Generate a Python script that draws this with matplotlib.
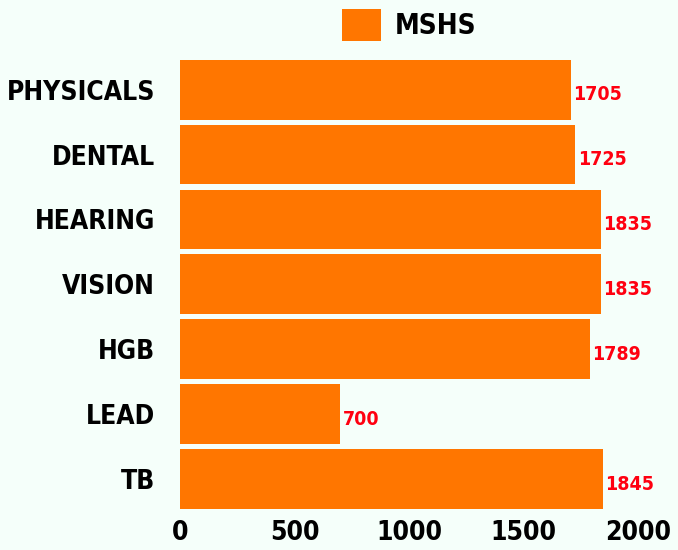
import matplotlib
matplotlib.use('Agg')
import matplotlib.pyplot as plt

# data
categories = ['PHYSICALS', 'DENTAL', 'HEARING', 'VISION', 'HGB', 'LEAD', 'TB']
values = [1705, 1725, 1835, 1835, 1789, 700, 1845]
xticks = [0, 500, 1000, 1500, 2000]
series_name = 'MSHS'

bg = '#F5FFFA'
bar_color = '#FF7600'
font = ['DejaVu Sans']

fig = plt.figure(figsize=(6.78, 5.5), dpi=100, facecolor=bg)
ax = fig.add_axes([0.2655, 0.07, 0.676, 0.826], facecolor=bg)

pos = list(range(len(categories)))
bars = ax.barh(pos, values, height=0.92, color=bar_color, label=series_name)

for p, v in zip(pos, values):
    ax.text(v + 10, p + 0.08, str(v), color='#FF0010', fontsize=14,
            fontweight='bold', family=font, stretch='condensed',
            va='center', ha='left')

ax.set_ylim(len(categories) - 0.5, -0.5)
ax.set_xlim(0, 2000)
ax.set_yticks(pos)
ax.set_yticklabels(categories)
ax.set_xticks(xticks)
ax.set_xticklabels([str(t) for t in xticks])
for lab in ax.get_yticklabels():
    lab.set_family(font)
    lab.set_stretch('condensed')
    lab.set_fontweight('bold')
    lab.set_fontsize(19)
for lab in ax.get_xticklabels():
    lab.set_family(font)
    lab.set_stretch('condensed')
    lab.set_fontweight('bold')
    lab.set_fontsize(19)
ax.tick_params(axis='y', length=0, pad=18)
ax.tick_params(axis='x', length=0, pad=6)
for s in ax.spines.values():
    s.set_visible(False)

leg = fig.legend(handles=[bars], labels=[series_name], loc='center',
                 bbox_to_anchor=(0.604, 0.955), frameon=False,
                 handlelength=1.4, handleheight=1.4, handletextpad=0.5,
                 prop={'family': font, 'weight': 'bold', 'size': 20,
                       'stretch': 'condensed'})

fig.savefig('out.png', dpi=100, facecolor=bg)
